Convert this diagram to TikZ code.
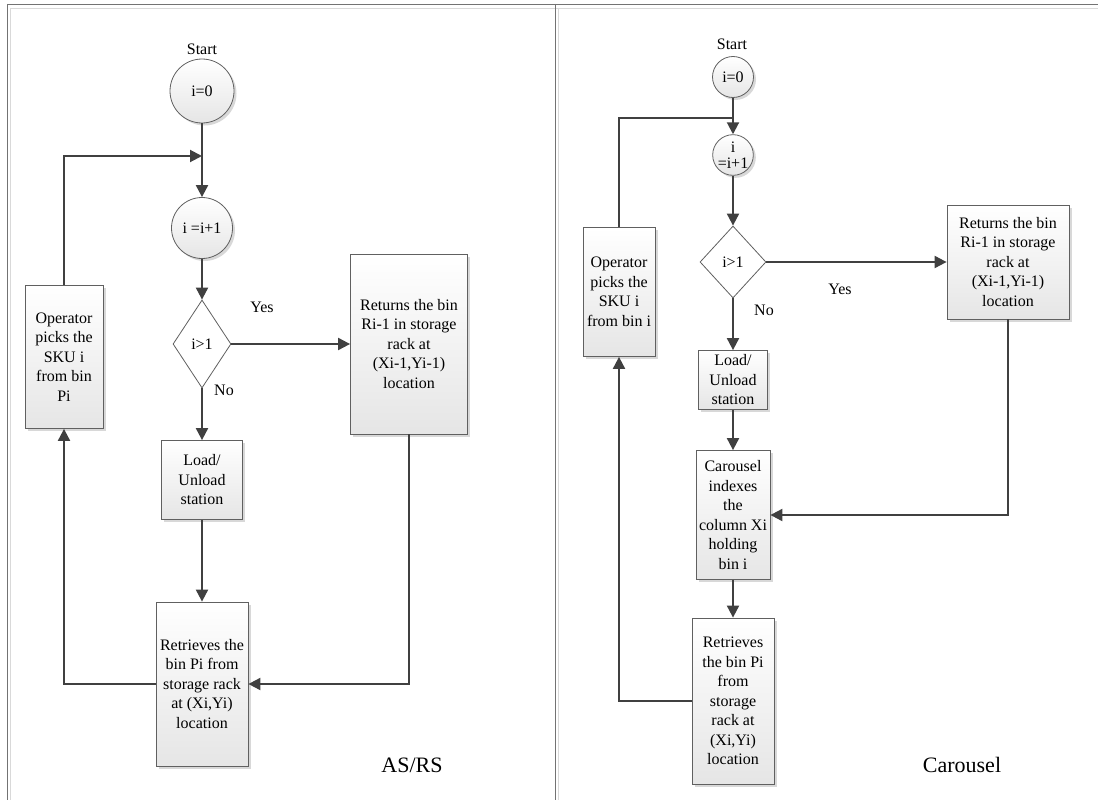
\documentclass[tikz,border=0pt]{standalone}
\usepackage{fontspec}
\setmainfont{Liberation Serif}
\usetikzlibrary{arrows.meta,shapes.geometric,shadows}
\definecolor{lineg}{HTML}{404040}
\definecolor{boxg}{HTML}{606060}
\newcommand\txt{\fontsize{16}{19.5}\selectfont}
\newcommand\bigtxt{\fontsize{22}{26}\selectfont}
\tikzset{
  conn/.style={draw=lineg, line width=2pt, -{Triangle[width=12pt,length=12pt]}},
  plainline/.style={draw=lineg, line width=2pt},
  shade/.style={top color=white, bottom color=black!10},
  shd/.style={drop shadow={shadow xshift=2.5pt, shadow yshift=-2.5pt, fill=black!30, opacity=0.5}},
  box/.style={rectangle, draw=boxg, line width=0.8pt, shade, shd, align=center, inner sep=0pt, font=\txt},
  circ/.style={circle, draw=boxg, line width=0.8pt, shade, shd, align=center, inner sep=0pt, font=\txt},
  dia/.style={diamond, draw=boxg, line width=0.8pt, fill=white, inner sep=0pt, font=\txt},
  lbl/.style={inner sep=0pt, font=\txt},
  frame/.style={draw=black!55, line width=0.9pt},
  framelight/.style={draw=black!15, line width=0.8pt}
}
\begin{document}
\begin{tikzpicture}[x=1pt,y=-1pt]
\useasboundingbox (0,0) rectangle (1098,800);
% frames
\draw[framelight] (10,8) -- (1098,8);
\draw[framelight] (10,8) -- (10,800);
\draw[framelight] (558,8) -- (558,800);
\draw[frame] (7,4) -- (1098,4);
\draw[frame] (7,4) -- (7,800);
\draw[frame] (555,4) -- (555,800);

% ---------------- AS/RS ----------------
\node[lbl] (st1) at (202,49) {Start};
\node[circ, minimum size=64pt] (a0) at (202,91) {i=0};
\coordinate (aj) at (202,156);
\node[circ, minimum size=61pt] (a1) at (202,228) {i =i+1};
\node[dia, minimum width=58pt, minimum height=88pt] (ad) at (202,344) {i>1};
\node[lbl] (ayes) at (262,307) {Yes};
\node[lbl] (ano) at (224,390) {No};
\node[box, minimum width=117pt, minimum height=180pt] (aret) at (409,344)
  {Returns the bin\\Ri-1 in storage\\rack at\\(Xi-1,Yi-1)\\location};
\node[box, minimum width=78pt, minimum height=143pt] (aop) at (64,357)
  {Operator\\picks the\\SKU i\\from bin\\Pi};
\node[box, minimum width=81pt, minimum height=79pt] (aload) at (202,480)
  {Load/\\Unload\\station};
\node[box, minimum width=92pt, minimum height=164pt] (aretr) at (202,684)
  {Retrieves the\\bin Pi from\\storage rack\\at (Xi,Yi)\\location};
\node[inner sep=0pt, font=\bigtxt] (asrs) at (412,765) {AS/RS};

\draw[conn] (a0.south) -- (a1.north);
\draw[conn] (aop.north) |- (aj);
\draw[conn] (a1.south) -- (ad.north);
\draw[conn] (ad.east) -- (aret.west);
\draw[conn] (ad.south) -- (aload.north);
\draw[conn] (aload.south) -- (aretr.north);
\draw[conn] (aret.south) |- (aretr.east);
\draw[conn] (aretr.west) -| (aop.south);

% ---------------- Carousel ----------------
\node[lbl] (st2) at (732,44) {Start};
\node[circ, minimum size=41pt] (b0) at (733,77) {i=0};
\coordinate (bj) at (733,118);
\node[circ, minimum size=40pt] (b1) at (733,155) {i\\[-3pt]=i+1};
\node[dia, minimum width=66pt, minimum height=72pt] (bd) at (733,262) {i>1};
\node[lbl] (byes) at (840,289) {Yes};
\node[lbl] (bno) at (764,310) {No};
\node[box, minimum width=122pt, minimum height=114pt] (bret) at (1008,262)
  {Returns the bin\\Ri-1 in storage\\rack at\\(Xi-1,Yi-1)\\location};
\node[box, minimum width=72pt, minimum height=129pt] (bop) at (619,292)
  {Operator\\picks the\\SKU i\\from bin i};
\node[box, minimum width=69pt, minimum height=59pt] (bload) at (733,380)
  {Load/\\Unload\\station};
\node[box, minimum width=74pt, minimum height=129pt] (bcar) at (733,515)
  {Carousel\\indexes\\the\\column Xi\\holding\\bin i};
\node[box, minimum width=82pt, minimum height=166pt] (bretr) at (733,701)
  {Retrieves\\the bin Pi\\from\\storage\\rack at\\(Xi,Yi)\\location};
\node[inner sep=0pt, font=\bigtxt] (car) at (962,765) {Carousel};

\draw[plainline] (bop.north) |- (bj);
\draw[conn] (b0.south) -- (b1.north);
\draw[conn] (b1.south) -- (bd.north);
\draw[conn] (bd.east) -- (bret.west);
\draw[conn] (bd.south) -- (bload.north);
\draw[conn] (bload.south) -- (bcar.north);
\draw[conn] (bret.south) |- (bcar.east);
\draw[conn] (bcar.south) -- (bretr.north);
\draw[conn] (bretr.west) -| (bop.south);
\end{tikzpicture}
\end{document}
